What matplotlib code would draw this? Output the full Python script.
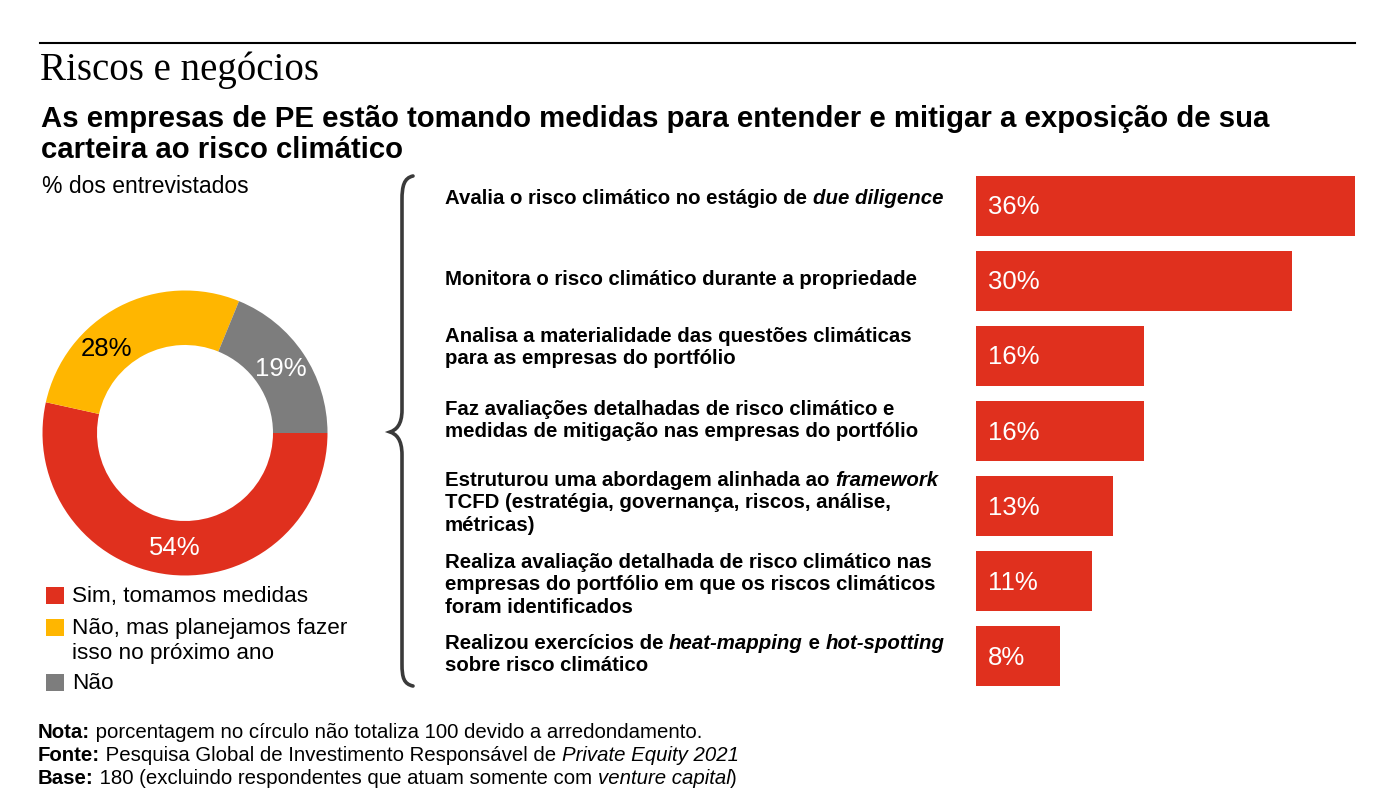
import numpy as np
import matplotlib
matplotlib.use('Agg')
import matplotlib.pyplot as plt
from matplotlib.path import Path
from matplotlib.patches import PathPatch, Rectangle

plt.rcParams.update({'font.family': 'Liberation Sans', 'font.size': 14})

W, H = 1397, 811

# donut data
donut_labels = ['Sim, tomamos medidas', 'Não, mas planejamos fazer\nisso no próximo ano', 'Não']
donut_values = [54, 28, 19]
donut_colors = ['#E0301E', '#FFB600', '#7D7D7D']
donut_text_colors = ['white', 'black', 'white']

# bar data (each label: list of lines, each line: list of (text, style))
bar_labels = [
    [[('Avalia o risco climático no estágio de ', 'b'), ('due diligence', 'bi')]],
    [[('Monitora o risco climático durante a propriedade', 'b')]],
    [[('Analisa a materialidade das questões climáticas', 'b')],
     [('para as empresas do portfólio', 'b')]],
    [[('Faz avaliações detalhadas de risco climático e', 'b')],
     [('medidas de mitigação nas empresas do portfólio', 'b')]],
    [[('Estruturou uma abordagem alinhada ao ', 'b'), ('framework', 'bi')],
     [('TCFD (estratégia, governança, riscos, análise,', 'b')],
     [('métricas)', 'b')]],
    [[('Realiza avaliação detalhada de risco climático nas', 'b')],
     [('empresas do portfólio em que os riscos climáticos', 'b')],
     [('foram identificados', 'b')]],
    [[('Realizou exercícios de ', 'b'), ('heat-mapping', 'bi'), (' e ', 'b'), ('hot-spotting', 'bi')],
     [('sobre risco climático', 'b')]],
]
bar_values = [36, 30, 16, 16, 13, 11, 8]
bar_color = '#E0301E'

notes = [
    [('Nota:', 'b'), (' porcentagem no círculo não totaliza 100 devido a arredondamento.', 'r')],
    [('Fonte:', 'b'), (' Pesquisa Global de Investimento Responsável de ', 'r'), ('Private Equity 2021', 'i')],
    [('Base:', 'b'), (' 180 (excluindo respondentes que atuam somente com ', 'r'),
     ('venture capital', 'i'), (')', 'r')],
]

STYLES = {'r': dict(weight='normal', style='normal'),
          'b': dict(weight='bold', style='normal'),
          'i': dict(weight='normal', style='italic'),
          'bi': dict(weight='bold', style='italic')}


def rich(ax, x, y, pieces, size, color='black'):
    prev = None
    for s, st in pieces:
        kw = dict(fontsize=size, color=color, **STYLES[st])
        if prev is None:
            prev = ax.text(x, y, s, va='baseline', ha='left', **kw)
        else:
            prev = ax.annotate(s, xy=(1, 0), xycoords=prev, va='bottom', ha='left', **kw)


fig = plt.figure(figsize=(W / 100, H / 100), dpi=100)
ov = fig.add_axes([0, 0, 1, 1])
ov.set_xlim(0, W)
ov.set_ylim(H, 0)
ov.axis('off')

# header
ov.plot([40, 1355], [43, 43], color='black', lw=1.5)
ov.text(40, 80, 'Riscos e negócios', family='Liberation Serif', fontsize=28, va='baseline')
ov.text(41, 127, 'As empresas de PE estão tomando medidas para entender e mitigar a exposição de sua',
        fontsize=21.2, weight='bold', va='baseline')
ov.text(41, 158, 'carteira ao risco climático', fontsize=21.2, weight='bold', va='baseline')
ov.text(42, 193, '% dos entrevistados', fontsize=16.5, va='baseline')

# donut
ax_d = fig.add_axes([(185 - 150) / W, 1 - (433 + 150) / H, 300 / W, 300 / H])
ax_d.pie(donut_values, colors=donut_colors, startangle=0, counterclock=False,
         radius=1.425, wedgeprops=dict(width=0.545, linewidth=0))
ax_d.set_xlim(-1.5, 1.5)
ax_d.set_ylim(-1.5, 1.5)
ax_d.set_aspect('equal')
label_angles = [-95, 133, 34]
for v, a, c in zip(donut_values, label_angles, donut_text_colors):
    r = 1.15
    ax_d.text(r * np.cos(np.radians(a)), r * np.sin(np.radians(a)), f'{v}%',
              color=c, fontsize=18.5, ha='center', va='center')

# donut legend
leg_baselines = [[602], [634, 659], [689]]
for lab, col, bls in zip(donut_labels, donut_colors, leg_baselines):
    ov.add_patch(Rectangle((46, bls[0] - 15), 18, 17, color=col, lw=0))
    for line, bl in zip(lab.split('\n'), bls):
        ov.text(72, bl, line, fontsize=16.2, va='baseline')

# brace
verts = [(413, 176), (404, 178), (402, 186), (402, 200),
         (402, 410), (402, 425), (396, 430), (390, 432),
         (396, 434), (402, 439), (402, 455),
         (402, 664), (402, 678), (404, 684), (413, 686)]
codes = [Path.MOVETO, Path.CURVE4, Path.CURVE4, Path.CURVE4,
         Path.LINETO, Path.CURVE4, Path.CURVE4, Path.CURVE4,
         Path.CURVE4, Path.CURVE4, Path.CURVE4,
         Path.LINETO, Path.CURVE4, Path.CURVE4, Path.CURVE4]
ov.add_patch(PathPatch(Path(verts, codes), fill=False, edgecolor='#3a3a3a', lw=2.6,
                       capstyle='round'))

# bars
n = len(bar_values)
ax_b = fig.add_axes([976 / W, 1 - 694 / H, 379 / W, 526 / H])
y = np.arange(n)
ax_b.barh(y, bar_values, height=0.8, color=bar_color, lw=0)
ax_b.set_xlim(0, 36)
ax_b.set_ylim(n - 0.5, -0.5)
ax_b.axis('off')
for i, v in enumerate(bar_values):
    ax_b.text(1.15, i + 0.02, f'{v}%', color='white', fontsize=18.5, va='center', ha='left')

# bar category labels
label_baselines = [204, 285, 342, 415, 486, 568, 649]
for lines, bl in zip(bar_labels, label_baselines):
    for k, pieces in enumerate(lines):
        rich(ov, 445, bl + k * 22.3, pieces, 14.7)

# notes
note_baselines = [738, 761, 784]
for pieces, bl in zip(notes, note_baselines):
    rich(ov, 38, bl, pieces, 14.7)

fig.savefig('out.png', dpi=100)
